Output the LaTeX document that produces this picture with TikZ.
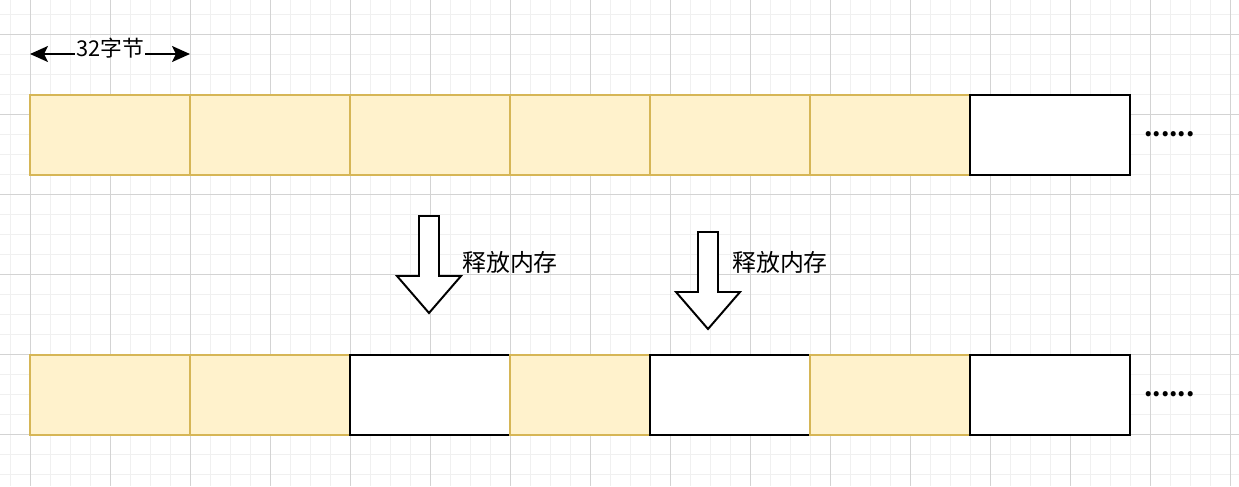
\documentclass[tikz,border=0pt]{standalone}
\usepackage{fontspec}
\setmainfont{Noto Sans CJK SC}
\usetikzlibrary{arrows.meta,positioning}
\definecolor{CellFill}{HTML}{FFF2CC}
\definecolor{CellLine}{HTML}{D6B656}
\definecolor{GridMinor}{HTML}{F0F0F0}
\definecolor{GridMajor}{HTML}{D3D3D3}

\tikzset{
  usedcell/.style={draw=CellLine, fill=CellFill, line width=1.4pt, minimum height=2cm, inner sep=0pt, outer sep=0pt},
  freecell/.style={draw=black, fill=white, line width=1.4pt, minimum height=2cm, inner sep=0pt, outer sep=0pt},
  freearrow/.style={draw=black, fill=white, line width=1.4pt, line join=miter},
  cjklabel/.style={font=\fontsize{17}{20}\selectfont, inner sep=0pt}
}

\begin{document}
\begin{tikzpicture}
  \useasboundingbox (0,0) rectangle (30.975,-12.15);
  \fill[white] (0,0) rectangle (30.975,-12.15);
  % background grid
  \foreach \k in {0,...,61}
    \draw[GridMinor, line width=0.7pt] (0.25+0.5*\k,0) -- (0.25+0.5*\k,-12.15);
  \foreach \k in {0,...,23}
    \draw[GridMinor, line width=0.7pt] (0,-0.35-0.5*\k) -- (30.975,-0.35-0.5*\k);
  \foreach \k in {0,...,15}
    \draw[GridMajor, line width=0.7pt] (0.75+2*\k,0) -- (0.75+2*\k,-12.15);
  \foreach \k in {0,...,5}
    \draw[GridMajor, line width=0.7pt] (0,-0.85-2*\k) -- (30.975,-0.85-2*\k);

  % top row
  \node[usedcell, minimum width=4cm, anchor=north west] (t1) at (0.75,-2.375) {};
  \node[usedcell, minimum width=4cm, right=0pt of t1] (t2) {};
  \node[usedcell, minimum width=4cm, right=0pt of t2] (t3) {};
  \node[usedcell, minimum width=3.5cm, right=0pt of t3] (t4) {};
  \node[usedcell, minimum width=4cm, right=0pt of t4] (t5) {};
  \node[usedcell, minimum width=4cm, right=0pt of t5] (t6) {};
  \node[freecell, minimum width=4cm, right=0pt of t6] (t7) {};
  \node[cjklabel, anchor=base west, font=\fontsize{17}{20}\selectfont\bfseries] (dots1) at (28.6,-3.42) {......};

  % size of one cell
  \draw[{Stealth[length=0.45cm, width=0.4cm, inset=0.1cm]}-{Stealth[length=0.45cm, width=0.4cm, inset=0.1cm]}, line width=1.4pt]
    ([yshift=1.025cm]t1.north west) -- node[cjklabel, font=\fontsize{15.5}{18}\selectfont, fill=white, inner xsep=0.5pt, yshift=0.15cm] (size) {32字节} ([yshift=1.025cm]t1.north east);

  % free arrows
  \draw[freearrow, shift={(10.725,-5.4)}] (-0.25,0) -- (0.25,0) -- (0.25,-1.5) -- (0.8,-1.5) -- (0,-2.425) -- (-0.8,-1.5) -- (-0.25,-1.5) -- cycle;
  \node[cjklabel, anchor=west] (free1) at (11.55,-6.55) {释放内存};
  \draw[freearrow, shift={(17.7,-5.8)}] (-0.25,0) -- (0.25,0) -- (0.25,-1.5) -- (0.8,-1.5) -- (0,-2.425) -- (-0.8,-1.5) -- (-0.25,-1.5) -- cycle;
  \node[cjklabel, anchor=west] (free2) at (18.3,-6.55) {释放内存};

  % bottom row
  \node[usedcell, minimum width=4cm, anchor=north west] (b1) at (0.75,-8.875) {};
  \node[usedcell, minimum width=4cm, right=0pt of b1] (b2) {};
  \node[freecell, minimum width=4cm, right=0pt of b2] (b3) {};
  \node[usedcell, minimum width=3.5cm, right=0pt of b3] (b4) {};
  \node[freecell, minimum width=4cm, right=0pt of b4] (b5) {};
  \node[usedcell, minimum width=4cm, right=0pt of b5] (b6) {};
  \node[freecell, minimum width=4cm, right=0pt of b6] (b7) {};
  \node[cjklabel, anchor=base west, font=\fontsize{17}{20}\selectfont\bfseries] (dots2) at (28.6,-9.92) {......};
\end{tikzpicture}
\end{document}
